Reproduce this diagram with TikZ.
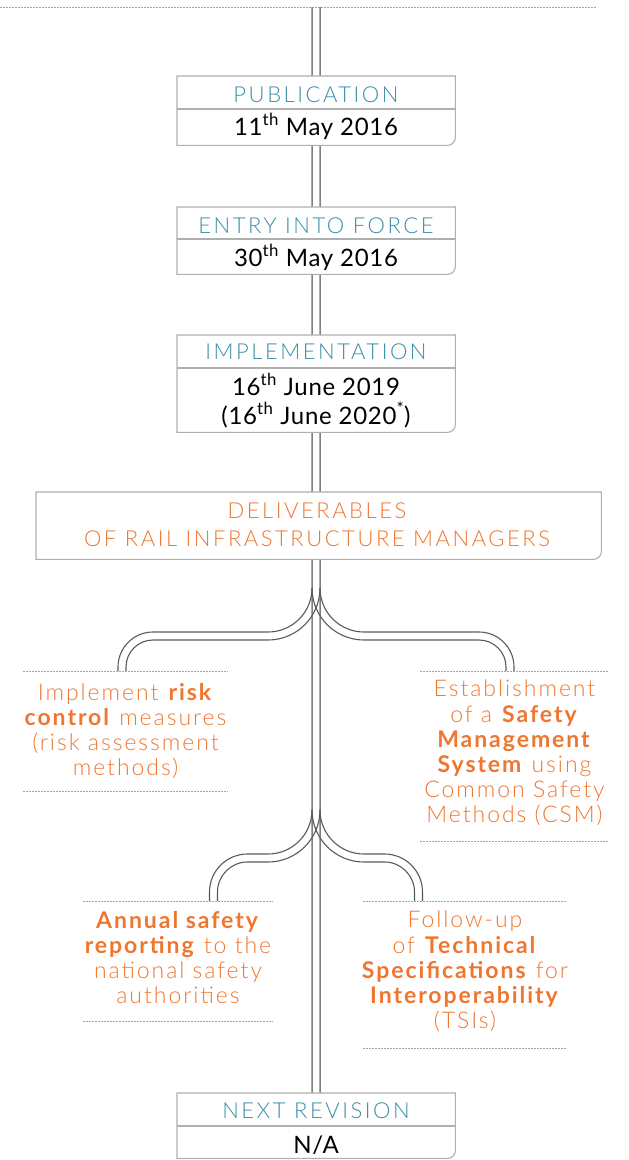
\documentclass[tikz,border=0pt]{standalone}
\usepackage{fontspec}
\setmainfont{Lato}[UprightFont={* Light},BoldFont={* Bold}]
\newfontfamily\regfont{Lato}[LetterSpace=3]
\newfontfamily\capslight{Lato}[UprightFont={* Light},LetterSpace=11.5]
\newfontfamily\itemfont{Lato}[UprightFont={* Light},BoldFont={* Bold},LetterSpace=8.5]
\definecolor{tealc}{RGB}{58,143,168}
\definecolor{orangec}{RGB}{240,118,48}
\definecolor{boxgray}{RGB}{175,175,175}
\definecolor{dotgray}{RGB}{165,165,165}
\definecolor{railgray}{RGB}{128,128,128}
\definecolor{branchgray}{RGB}{90,90,90}
\newcommand\tlframe[1]{\draw[boxline] (#1.north west) -- (#1.north east) -- ([yshift=8pt]#1.south east) arc[start angle=0,end angle=-90,radius=8pt] -- (#1.south west) -- cycle;}
\begin{document}
\begin{tikzpicture}[x=1pt,y=1pt,
 boxline/.style={draw=boxgray,line width=1.1pt,fill=white},
 divline/.style={draw=boxgray,line width=1.1pt},
 hole/.style={inner sep=0pt,anchor=north west},
 dots/.style={draw=dotgray,line width=0.9pt,dash pattern=on 1.5pt off 1.5pt},
 rail/.style={draw=railgray,line width=1.5pt},
 branch/.style={draw=branchgray,line width=1.1pt},
 boxtitle/.style={text=tealc,font=\capslight\fontsize{22}{26}\selectfont,inner sep=0pt,anchor=base},
 boxdate/.style={text=black,font=\regfont\fontsize{24}{28}\selectfont,inner sep=0pt,anchor=base},
 delivtext/.style={text=orangec,font=\capslight\fontsize{22}{28}\selectfont,inner sep=0pt,align=center,anchor=north},
 itemtext/.style={text=orangec,font=\itemfont\fontsize{23}{25.2}\selectfont,inner sep=0pt,align=center,anchor=north}]

\useasboundingbox (0,0) rectangle (629,-1160);

% box placeholders
\node[hole,minimum width=278,minimum height=69] (pub) at (177,-76) {};
\node[hole,minimum width=278,minimum height=67] (entry) at (177,-207) {};
\node[hole,minimum width=278,minimum height=97] (impl) at (177,-335) {};
\node[hole,minimum width=565,minimum height=67] (deliv) at (36,-492) {};
\node[hole,minimum width=278,minimum height=65] (nextrev) at (177,-1093) {};

% top dotted line and rails
\coordinate (top) at (316,-7);
\draw[dots] (0,-7) -- (597,-7);
\draw[rail] ([xshift=-4pt]top) -- ([xshift=-4pt]nextrev.north);
\draw[rail] ([xshift=4pt]top) -- ([xshift=4pt]nextrev.north);

% branches
\coordinate (b1) at (316,-588);
\coordinate (b2) at (316,-810);
\draw[branch] ([xshift=-4pt]b1) arc[start angle=0,end angle=-90,radius=44] -- (153,-632) arc[start angle=90,end angle=180,radius=35] -- (118,-671);
\draw[branch] ([xshift=4pt]b1) arc[start angle=0,end angle=-90,radius=52] -- (153,-640) arc[start angle=90,end angle=180,radius=27] -- (126,-671);
\draw[branch] ([xshift=4pt]b1) arc[start angle=180,end angle=270,radius=44] -- (479,-632) arc[start angle=90,end angle=0,radius=35] -- (514,-671);
\draw[branch] ([xshift=-4pt]b1) arc[start angle=180,end angle=270,radius=52] -- (479,-640) arc[start angle=90,end angle=0,radius=27] -- (506,-671);

\draw[branch] ([xshift=-4pt]b2) arc[start angle=0,end angle=-90,radius=44] -- (247.5,-854) arc[start angle=90,end angle=180,radius=38] -- (209.5,-901);
\draw[branch] ([xshift=4pt]b2) arc[start angle=0,end angle=-90,radius=52] -- (247.5,-862) arc[start angle=90,end angle=180,radius=30] -- (217.5,-901);
\draw[branch] ([xshift=4pt]b2) arc[start angle=180,end angle=270,radius=44] -- (384.5,-854) arc[start angle=90,end angle=0,radius=38] -- (422.5,-901);
\draw[branch] ([xshift=-4pt]b2) arc[start angle=180,end angle=270,radius=52] -- (384.5,-862) arc[start angle=90,end angle=0,radius=30] -- (414.5,-901);

% dotted separators
\draw[dots] (23,-671) -- (228,-671);
\draw[dots] (23,-791) -- (228,-791);
\draw[dots] (420,-671) -- (609,-671);
\draw[dots] (420,-841) -- (609,-841);
\draw[dots] (83,-901) -- (273,-901);
\draw[dots] (83,-1021) -- (273,-1021);
\draw[dots] (363,-901) -- (567,-901);
\draw[dots] (363,-1048) -- (567,-1048);

% frames
\tlframe{pub}
\draw[divline] (pub.west |- 0,-109) -- (pub.east |- 0,-109);
\tlframe{entry}
\draw[divline] (entry.west |- 0,-239) -- (entry.east |- 0,-239);
\tlframe{impl}
\draw[divline] (impl.west |- 0,-368) -- (impl.east |- 0,-368);
\tlframe{deliv}
\tlframe{nextrev}
\draw[divline] (nextrev.west |- 0,-1126) -- (nextrev.east |- 0,-1126);

% box texts
\node[boxtitle] (pubT) at (316,-102) {PUBLICATION};
\node[boxdate] (pubD) at (316,-135) {11\textsuperscript{th} May 2016};
\node[boxtitle] (entryT) at (316,-233) {ENTRY INTO FORCE};
\node[boxdate] (entryD) at (316,-266) {30\textsuperscript{th} May 2016};
\node[boxtitle] (implT) at (316,-359) {IMPLEMENTATION};
\node[boxdate] (implD1) at (316,-395) {16\textsuperscript{th} June 2019};
\node[boxdate] (implD2) at (316,-424) {(16\textsuperscript{th} June 2020\textsuperscript{*})};
\node[delivtext] (delivT) at (317,-503) {DELIVERABLES\\OF RAIL INFRASTRUCTURE MANAGERS};
\node[boxtitle] (nextT) at (316,-1118) {NEXT REVISION};
\node[boxdate] (nextD) at (316,-1153) {N/A};

% items
\node[itemtext] (riskctl) at (125.5,-683) {Implement \textbf{risk}\\\textbf{control} measures\\(risk assessment\\methods)};
\node[itemtext] (sms) at (514.5,-680) {Establishment\\of a \textbf{Safety}\\\textbf{Management}\\\textbf{System} using\\Common Safety\\Methods (CSM)};
\node[itemtext] (annual) at (178,-911) {\textbf{Annual safety}\\\textbf{reporting} to the\\national safety\\authorities};
\node[itemtext] (tsi) at (465,-911) {Follow-up\\of \textbf{Technical}\\\textbf{Specifications} for\\\textbf{Interoperability}\\(TSIs)};
\end{tikzpicture}
\end{document}
